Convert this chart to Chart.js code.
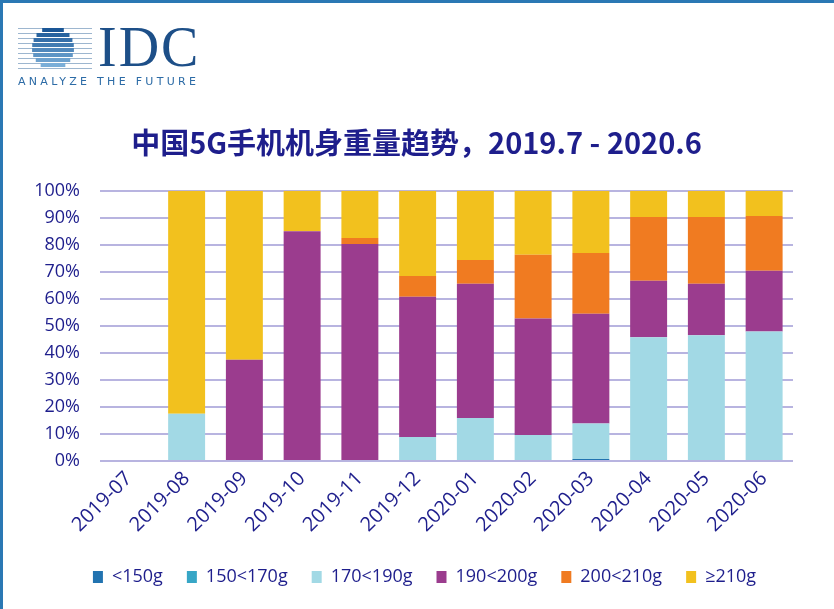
<!DOCTYPE html>
<html>
<head>
<meta charset="utf-8">
<script src="https://cdn.jsdelivr.net/npm/chart.js@4/dist/chart.umd.min.js"></script>
<style>
  html, body { margin:0; padding:0; background:#fff; }
  #wrap { position:relative; width:834px; height:609px; overflow:hidden; background:#fff; }
  #frame { position:absolute; left:0; top:0; width:834px; height:609px; box-sizing:border-box; border-left:3px solid #2a78b4; border-top:3px solid #2a78b4; pointer-events:none; z-index:5; }
  #chart { position:absolute; left:0; top:0; }
  #logoMark { position:absolute; left:16px; top:24px; z-index:4; }
  #idc { position:absolute; left:98px; top:19px; font-family:"Liberation Serif","DejaVu Serif",serif; font-size:56px; color:#1d4f88; letter-spacing:2px; line-height:1; z-index:4; }
  #tag { position:absolute; left:18px; top:76px; font-family:"DejaVu Sans","Noto Sans",sans-serif; font-size:11px; color:#2c6ba6; letter-spacing:3.3px; line-height:1; z-index:4; }
</style>
</head>
<body>
<div id="wrap">
  <canvas id="chart" width="834" height="609"></canvas>
  <canvas id="logoMark" width="80" height="50"></canvas>
  <div id="idc">IDC</div>
  <div id="tag">ANALYZE THE FUTURE</div>
  <div id="frame"></div>
</div>
<script>
const categories = ['2019-07','2019-08','2019-09','2019-10','2019-11','2019-12','2020-01','2020-02','2020-03','2020-04','2020-05','2020-06'];
const seriesNames = ['<150g','150<170g','170<190g','190<200g','200<210g','≥210g'];
const under150   = [0, 0, 0, 0, 0, 0, 0, 0, 0.7, 0, 0, 0];
const g150to170  = [0, 0, 0, 0, 0, 0, 0, 0, 0, 0, 0, 0];
const g170to190  = [0, 17.5, 0, 0, 0, 8.9, 15.9, 9.6, 13.2, 45.8, 46.5, 47.9];
const g190to200  = [0, 0, 37.5, 85, 80.3, 51.9, 49.7, 43.1, 40.6, 20.9, 19.1, 22.5];
const g200to210  = [0, 0, 0, 0, 2.2, 7.7, 8.8, 23.6, 22.5, 23.6, 24.7, 20.3];
const over210    = [0, 82.5, 62.5, 15, 17.5, 31.5, 25.6, 23.7, 23.0, 9.7, 9.7, 9.3];
const yTicks = [0,10,20,30,40,50,60,70,80,90,100];
const titleText = '中国5G手机机身重量趋势，2019.7 - 2020.6';

const colors = ['#2273b0','#37a6c6','#a2d9e5','#9b3c8e','#f07b21','#f2c11e'];
const navy = '#1e1e8c';
const seriesData = [under150, g150to170, g170to190, g190to200, g200to210, over210];

// logo mark
(function(){
  const c = document.getElementById('logoMark').getContext('2d');
  const cx = 37, cy = 24, r = 21;
  const n = 9;
  for (let i = 0; i < n; i++) {
    const y = 4 + i * 5;
    c.fillStyle = '#9db6cf';
    c.fillRect(2, y, 74, 1);
  }
  for (let i = 0; i < n; i++) {
    const y = 4 + i * 5;
    const dyc = (y + 2) - cy;
    if (Math.abs(dyc) >= r) continue;
    const half = Math.sqrt(r*r - dyc*dyc);
    const t = i / (n - 1);
    const rr = Math.round(26 + t * 110), gg = Math.round(86 + t * 100), bb = Math.round(150 + t * 75);
    c.fillStyle = `rgb(${rr},${gg},${bb})`;
    c.fillRect(cx - half, y, half * 2, 4);
  }
})();

const bgPlugin = {
  id: 'bg',
  beforeDraw(chart) {
    const c = chart.ctx;
    c.save(); c.fillStyle = '#fff'; c.fillRect(0, 0, chart.width, chart.height); c.restore();
  },
  afterLayout(chart) {
    if (chart.titleBlock) { chart.titleBlock.left += 10; chart.titleBlock.right += 10; }
    if (chart.legend) { chart.legend.left += 18; chart.legend.right += 18; }
  }
};

new Chart(document.getElementById('chart'), {
  type: 'bar',
  data: {
    labels: categories,
    datasets: seriesNames.map((name, i) => ({
      label: name,
      data: seriesData[i],
      backgroundColor: colors[i],
      borderWidth: 0,
      categoryPercentage: 1,
      barPercentage: 0.64
    }))
  },
  options: {
    responsive: false,
    animation: false,
    layout: { padding: { left: 20, right: 41, top: 126, bottom: 13 } },
    plugins: {
      title: {
        display: true,
        text: titleText,
        color: navy,
        font: { family: '"Noto Sans CJK SC","Open Sans",sans-serif', size: 29, weight: 'bold' },
        padding: { top: 0, bottom: 30 }
      },
      legend: {
        position: 'bottom',
        labels: {
          color: navy,
          font: { family: '"Open Sans",sans-serif', size: 18 },
          boxWidth: 10,
          boxHeight: 12,
          padding: 24,
          useBorderRadius: false
        }
      },
      tooltip: { enabled: false }
    },
    scales: {
      x: {
        stacked: true,
        afterFit(scale) { scale.height += 1; },
        grid: { display: false, drawTicks: false },
        border: { display: false },
        ticks: {
          color: navy,
          font: { family: '"Open Sans",sans-serif', size: 20 },
          maxRotation: 45, minRotation: 45,
          padding: 6,
          autoSkip: false
        }
      },
      y: {
        stacked: true,
        min: 0, max: 100,
        afterFit(scale) { scale.width = 80; },
        afterBuildTicks(scale) { scale.ticks = yTicks.map(v => ({ value: v })); },
        grid: { color: '#b8b4e0', lineWidth: 2, drawTicks: false },
        border: { display: false },
        ticks: {
          color: navy,
          font: { family: '"Open Sans",sans-serif', size: 18 },
          padding: 20,
          callback: v => v + '%'
        }
      }
    }
  },
  plugins: [bgPlugin]
});
</script>
</body>
</html>
